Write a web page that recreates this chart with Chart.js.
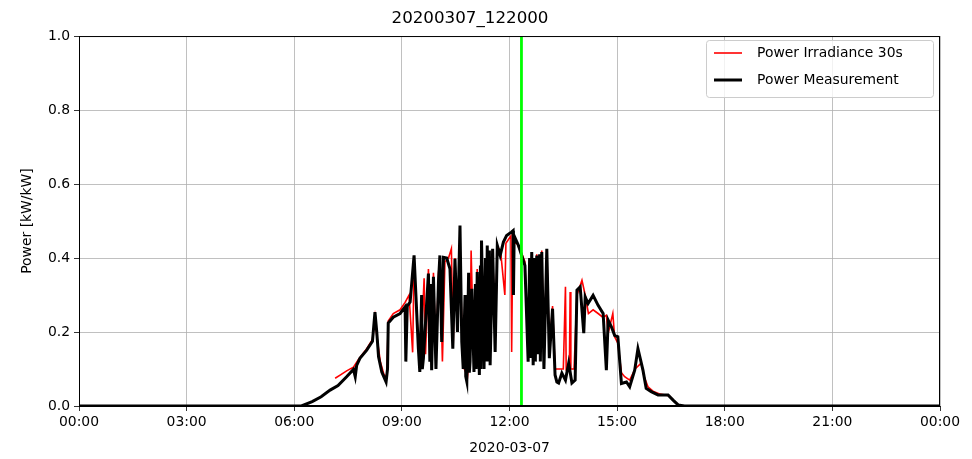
<!DOCTYPE html>
<html>
<head>
<meta charset="utf-8">
<script src="https://cdn.jsdelivr.net/npm/chart.js@4/dist/chart.umd.min.js"></script>
<style>
  body { margin: 0; background: #fff; }
</style>
</head>
<body>
<canvas id="powerchart" width="972" height="459"></canvas>
<script>
// Power measurement (hours of day, kW/kW)
var measHours = [0, 6.2, 6.5, 6.75, 7.0, 7.22, 7.46, 7.65, 7.7, 7.74, 7.83, 8.02, 8.18, 8.25, 8.3, 8.35, 8.44, 8.56, 8.6, 8.62, 8.76, 8.95, 9.09, 9.11, 9.15, 9.23, 9.34, 9.46, 9.5, 9.55, 9.57, 9.6, 9.74, 9.78, 9.8, 9.83, 9.88, 9.95, 10.02, 10.06, 10.11, 10.16, 10.25, 10.34, 10.42, 10.48, 10.55, 10.62, 10.67, 10.71, 10.76, 10.78, 10.81, 10.86, 10.88, 10.9, 10.95, 11.01, 11.05, 11.07, 11.1, 11.16, 11.19, 11.2, 11.22, 11.29, 11.33, 11.35, 11.38, 11.42, 11.44, 11.46, 11.53, 11.6, 11.66, 11.74, 11.83, 11.92, 12.05, 12.1, 12.11, 12.13, 12.25, 12.43, 12.52, 12.56, 12.58, 12.62, 12.66, 12.7, 12.72, 12.76, 12.8, 12.84, 12.86, 12.9, 12.96, 13.04, 13.11, 13.2, 13.27, 13.32, 13.37, 13.46, 13.56, 13.65, 13.74, 13.83, 13.88, 13.97, 14.07, 14.11, 14.19, 14.33, 14.47, 14.61, 14.7, 14.75, 14.84, 14.93, 15.02, 15.12, 15.26, 15.35, 15.49, 15.58, 15.72, 15.81, 15.95, 16.14, 16.42, 16.56, 16.7, 16.88, 24];
var measPower = [0, 0, 0.012, 0.025, 0.043, 0.055, 0.079, 0.099, 0.079, 0.11, 0.129, 0.151, 0.175, 0.254, 0.2, 0.133, 0.092, 0.065, 0.1, 0.224, 0.24, 0.25, 0.268, 0.12, 0.27, 0.281, 0.407, 0.155, 0.092, 0.3, 0.1, 0.129, 0.358, 0.12, 0.33, 0.097, 0.349, 0.1, 0.335, 0.407, 0.173, 0.402, 0.4, 0.371, 0.155, 0.398, 0.2, 0.488, 0.173, 0.1, 0.3, 0.08, 0.066, 0.36, 0.09, 0.12, 0.317, 0.092, 0.33, 0.1, 0.362, 0.084, 0.38, 0.1, 0.447, 0.1, 0.4, 0.12, 0.434, 0.12, 0.42, 0.11, 0.425, 0.146, 0.434, 0.407, 0.443, 0.461, 0.47, 0.474, 0.3, 0.46, 0.434, 0.38, 0.12, 0.4, 0.13, 0.416, 0.11, 0.4, 0.12, 0.407, 0.14, 0.41, 0.12, 0.416, 0.1, 0.425, 0.129, 0.263, 0.084, 0.065, 0.062, 0.089, 0.07, 0.116, 0.062, 0.07, 0.313, 0.322, 0.197, 0.295, 0.277, 0.299, 0.272, 0.25, 0.097, 0.232, 0.214, 0.191, 0.187, 0.061, 0.065, 0.052, 0.097, 0.155, 0.097, 0.048, 0.039, 0.03, 0.03, 0.016, 0.003, 0, 0];

// Power from irradiance, 30 s
var irrHours = [7.14, 7.3, 7.46, 7.65, 7.79, 8.02, 8.18, 8.25, 8.3, 8.4, 8.5, 8.58, 8.62, 8.76, 8.95, 9.09, 9.2, 9.3, 9.34, 9.46, 9.52, 9.62, 9.66, 9.74, 9.83, 9.88, 9.95, 10.02, 10.06, 10.13, 10.2, 10.3, 10.38, 10.43, 10.48, 10.55, 10.62, 10.68, 10.74, 10.83, 10.9, 10.93, 11.01, 11.1, 11.16, 11.22, 11.29, 11.38, 11.46, 11.53, 11.6, 11.66, 11.75, 11.87, 11.9, 12.04, 12.06, 12.09, 12.2, 12.35, 12.43, 12.52, 12.62, 12.66, 12.76, 12.8, 12.9, 12.96, 13.04, 13.11, 13.2, 13.27, 13.4, 13.5, 13.56, 13.58, 13.67, 13.69, 13.71, 13.8, 13.88, 14.02, 14.11, 14.2, 14.33, 14.47, 14.6, 14.7, 14.75, 14.88, 14.93, 15.02, 15.12, 15.21, 15.35, 15.5, 15.67, 15.75, 15.86, 16.0, 16.2, 16.45, 16.6, 16.75];
var irrPower = [0.075, 0.085, 0.095, 0.105, 0.126, 0.155, 0.18, 0.24, 0.19, 0.12, 0.085, 0.08, 0.23, 0.25, 0.26, 0.28, 0.3, 0.145, 0.38, 0.17, 0.12, 0.345, 0.14, 0.37, 0.12, 0.36, 0.12, 0.36, 0.4, 0.12, 0.39, 0.4, 0.425, 0.16, 0.4, 0.22, 0.45, 0.16, 0.1, 0.08, 0.15, 0.42, 0.11, 0.37, 0.1, 0.43, 0.12, 0.42, 0.13, 0.42, 0.17, 0.43, 0.42, 0.3, 0.44, 0.46, 0.146, 0.44, 0.44, 0.41, 0.39, 0.13, 0.41, 0.12, 0.41, 0.15, 0.42, 0.12, 0.42, 0.15, 0.27, 0.1, 0.1, 0.1, 0.322, 0.1, 0.11, 0.308, 0.1, 0.1, 0.3, 0.34, 0.3, 0.25, 0.26, 0.25, 0.24, 0.245, 0.197, 0.25, 0.187, 0.17, 0.09, 0.079, 0.07, 0.1, 0.116, 0.08, 0.052, 0.04, 0.032, 0.028, 0.012, 0];

// current time marker (12:20)
var markerHour = 12 + 20 / 60;

var xTicks = [0, 3, 6, 9, 12, 15, 18, 21, 24];
var yTicks = [0, 0.2, 0.4, 0.6, 0.8, 1.0];

function toPoints(xs, ys) {
    return xs.map(function (x, i) { return { x: x, y: ys[i] }; });
}

function hourLabel(h) {
    var hh = h % 24;
    return (hh < 10 ? '0' : '') + hh + ':00';
}

var font = 'DejaVu Sans';

// draws the frame and matplotlib-style legend box
var framePlugin = {
    id: 'frame',
    afterDraw: function (chart) {
        var c = chart.ctx, a = chart.chartArea;
        c.save();
        c.strokeStyle = '#000';
        c.lineWidth = 1;
        c.strokeRect(a.left + 0.5, a.top + 0.5, a.right - a.left - 1, a.bottom - a.top - 1);

        var bx = 706, by = 40, bw = 227, bh = 57;
        c.fillStyle = 'rgba(255,255,255,0.8)';
        c.strokeStyle = '#cccccc';
        c.beginPath();
        c.roundRect(bx + 0.5, by + 0.5, bw, bh, 3);
        c.fill();
        c.stroke();
        var items = chart.data.datasets.filter(function (d) { return d.label; });
        c.font = '13.9px "' + font + '"';
        c.textBaseline = 'middle';
        items.forEach(function (d, i) {
            var y = by + 13 + i * 27;
            c.strokeStyle = d.borderColor;
            c.lineWidth = d.borderWidth;
            c.beginPath();
            c.moveTo(714, y);
            c.lineTo(742, y);
            c.stroke();
            c.fillStyle = '#000';
            c.fillText(d.label, 757, y);
        });
        c.restore();
    }
};

var ctx = document.getElementById('powerchart').getContext('2d');

var powerchart = new Chart(ctx, {
    type: 'line',
    data: {
        datasets: [{
            label: 'Power Irradiance 30s',
            data: toPoints(irrHours, irrPower),
            borderColor: '#ff0000',
            borderWidth: 1.6,
            pointRadius: 0,
            order: 3
        }, {
            label: 'Power Measurement',
            data: toPoints(measHours, measPower),
            borderColor: '#000000',
            borderWidth: 3,
            pointRadius: 0,
            order: 2
        }, {
            label: '',
            data: toPoints([markerHour, markerHour], [0, 1]),
            borderColor: '#00ff00',
            borderWidth: 2.8,
            pointRadius: 0,
            order: 1
        }]
    },
    options: {
        responsive: false,
        animation: false,
        layout: { padding: { left: 0, right: 32, top: 0, bottom: 0 } },
        scales: {
            x: {
                type: 'linear',
                min: 0,
                max: 24,
                afterBuildTicks: function (s) { s.ticks = xTicks.map(function (v) { return { value: v }; }); },
                afterFit: function (s) { s.height = 53; },
                ticks: {
                    callback: function (v) { return hourLabel(v); },
                    color: '#000',
                    font: { family: font, size: 13.9 },
                    padding: 3,
                    maxRotation: 0
                },
                grid: { color: '#b0b0b0', lineWidth: 0.8, tickColor: '#000', tickLength: 5 },
                border: { color: '#000' },
                title: {
                    display: true,
                    text: '2020-03-07',
                    color: '#000',
                    font: { family: font, size: 13.9 },
                    padding: { top: 0, bottom: 2 }
                }
            },
            y: {
                min: 0,
                max: 1,
                afterBuildTicks: function (s) { s.ticks = yTicks.map(function (v) { return { value: v }; }); },
                afterFit: function (s) { s.width = 79; },
                ticks: {
                    callback: function (v) { return v.toFixed(1); },
                    color: '#000',
                    font: { family: font, size: 13.9 },
                    padding: 4
                },
                grid: { color: '#b0b0b0', lineWidth: 0.8, tickColor: '#000', tickLength: 5 },
                border: { color: '#000' },
                title: {
                    display: true,
                    text: 'Power [kW/kW]',
                    color: '#000',
                    font: { family: font, size: 13.9 },
                    padding: { top: 19, bottom: 0 }
                }
            }
        },
        plugins: {
            title: {
                display: true,
                text: '20200307_122000',
                color: '#000',
                font: { family: font, size: 16.7, weight: 'normal' },
                padding: { top: 9, bottom: 7 }
            },
            legend: { display: false },
            tooltip: { enabled: false }
        }
    },
    plugins: [framePlugin]
});
</script>
</body>
</html>
